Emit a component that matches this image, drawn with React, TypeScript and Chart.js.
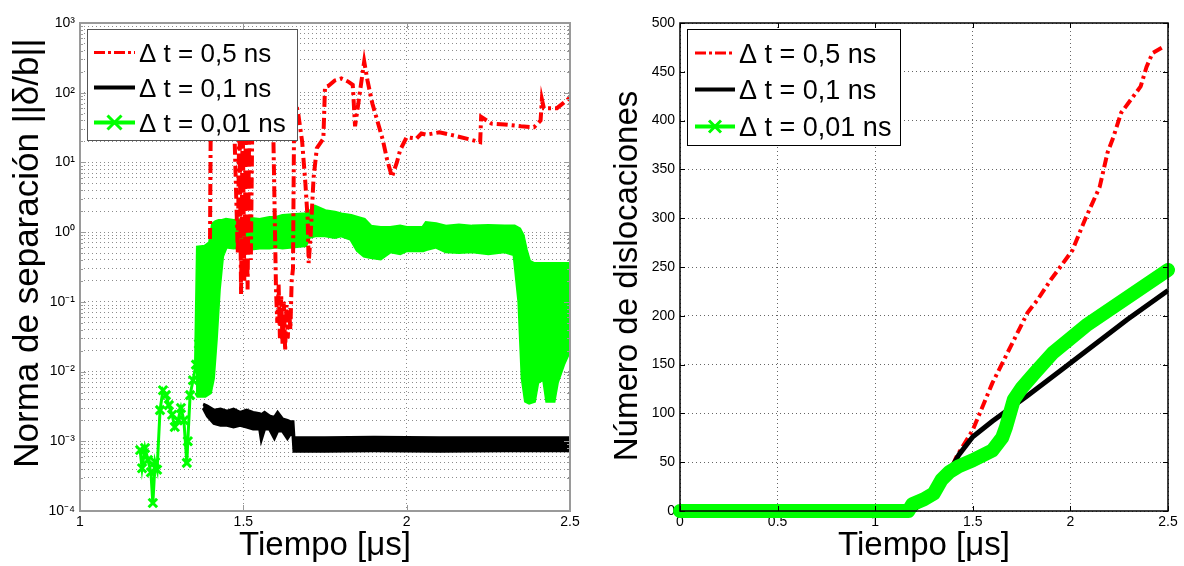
import React, { useEffect, useRef } from 'react';
import { Chart, registerables } from 'chart.js';
Chart.register(...registerables);

// ---------------- text ----------------
const legendLabels = ['Δ t = 0,5 ns', 'Δ t = 0,1 ns', 'Δ t = 0,01 ns'];
const xTitle = 'Tiempo [μs]';
const yTitleLeft = 'Norma de separación ||δ/b||';
const yTitleRight = 'Número de dislocaciones';

// ---------------- ticks ----------------
const leftXTicks = [1, 1.5, 2, 2.5];
const leftYExponents = [-4, -3, -2, -1, 0, 1, 2, 3];
const leftYMinorMultipliers = [2, 3, 4, 5, 6, 7, 8, 9];
const rightXTicks = [0, 0.5, 1, 1.5, 2, 2.5];
const rightYTicks = [0, 50, 100, 150, 200, 250, 300, 350, 400, 450, 500];

// ---------------- left panel data ----------------
// Δt = 0,5 ns (red, dash-dot)
const redLX = [1.398, 1.4, 1.405, 1.47, 1.483, 1.488, 1.493, 1.498, 1.503, 1.508, 1.513, 1.518, 1.523, 1.528, 1.535, 1.59, 1.6, 1.604, 1.608, 1.612, 1.616, 1.62, 1.624, 1.628, 1.632, 1.636, 1.64, 1.644, 1.648, 1.652, 1.656, 1.668, 1.68, 1.69, 1.697, 1.7, 1.706, 1.715, 1.725, 1.745, 1.75, 1.76, 1.78, 1.8, 1.82, 1.835, 1.842, 1.85, 1.87, 1.88, 1.895, 1.91, 1.927, 1.94, 1.955, 1.97, 1.98, 2.0, 2.03, 2.045, 2.06, 2.1, 2.15, 2.2, 2.225, 2.228, 2.26, 2.3, 2.35, 2.39, 2.41, 2.414, 2.42, 2.46, 2.5];
const redLY = [0.8, 25, 60, 80, 0.5, 60, 0.13, 45, 0.2, 50, 0.15, 35, 0.4, 60, 90, 80, 0.15, 0.05, 0.18, 0.03, 0.12, 0.025, 0.1, 0.02, 0.09, 0.03, 0.08, 0.04, 0.2, 0.3, 90, 50, 20, 5, 1.5, 0.36, 0.9, 6, 16, 22, 120, 125, 150, 160, 145, 130, 33, 60, 280, 150, 70, 40, 21, 11, 6.2, 10, 15, 23, 22, 26, 25, 27, 24, 21, 19.5, 45, 36, 35, 33, 32, 40, 80, 60, 60, 85];

// Δt = 0,1 ns (black) – noisy band: upper / lower envelope
const blackLX = [1.377, 1.39, 1.41, 1.43, 1.45, 1.47, 1.49, 1.51, 1.53, 1.55, 1.555, 1.565, 1.58, 1.595, 1.605, 1.62, 1.635, 1.645, 1.652, 1.655, 1.75, 1.9, 2.1, 2.3, 2.5];
const blackLHi = [3.4e-3, 3.2e-3, 2.8e-3, 2.9e-3, 2.7e-3, 2.9e-3, 2.6e-3, 2.8e-3, 2.6e-3, 2.5e-3, 2.4e-3, 2.6e-3, 2.3e-3, 2.2e-3, 2.6e-3, 2.1e-3, 2.0e-3, 1.9e-3, 1.9e-3, 1.12e-3, 1.12e-3, 1.14e-3, 1.12e-3, 1.12e-3, 1.12e-3];
const blackLLo = [3.0e-3, 2.3e-3, 1.8e-3, 1.7e-3, 1.7e-3, 1.6e-3, 1.7e-3, 1.6e-3, 1.5e-3, 1.5e-3, 1.05e-3, 1.5e-3, 1.5e-3, 1.1e-3, 1.4e-3, 1.4e-3, 1.1e-3, 1.3e-3, 1.2e-3, 7.2e-4, 7.2e-4, 7.3e-4, 7.2e-4, 7.3e-4, 7.3e-4];

// Δt = 0,01 ns (green) – sparse start with markers
const greenLX = [1.184, 1.19, 1.199, 1.208, 1.217, 1.223, 1.23, 1.236, 1.245, 1.254, 1.263, 1.272, 1.282, 1.29, 1.3, 1.309, 1.318, 1.327, 1.33, 1.337, 1.346, 1.355, 1.364];
const greenLY = [7.5e-4, 4.1e-4, 8e-4, 5.4e-4, 3.6e-4, 1.3e-4, 5e-4, 3.9e-4, 2.8e-3, 5.4e-3, 4.6e-3, 3.3e-3, 2.4e-3, 1.6e-3, 2e-3, 3e-3, 2e-3, 4.9e-4, 1e-3, 4.6e-3, 7.5e-3, 1.26e-2, 2.5e-2];
// Δt = 0,01 ns (green) – dense noisy band: upper / lower envelope
const greenBandX = [1.355, 1.361, 1.383, 1.398, 1.407, 1.416, 1.425, 1.435, 1.447, 1.47, 1.5, 1.52, 1.55, 1.58, 1.6, 1.62, 1.65, 1.69, 1.7, 1.72, 1.75, 1.78, 1.8, 1.83, 1.85, 1.87, 1.89, 1.92, 1.95, 1.98, 2.0, 2.05, 2.06, 2.09, 2.12, 2.16, 2.2, 2.25, 2.3, 2.33, 2.345, 2.355, 2.365, 2.375, 2.39, 2.4, 2.42, 2.43, 2.45, 2.46, 2.48, 2.5];
const greenBandHi = [0.012, 0.6, 0.62, 0.7, 1.3, 1.4, 1.45, 1.45, 1.5, 1.45, 1.5, 1.55, 1.5, 1.6, 1.6, 1.7, 1.75, 1.8, 1.9, 2.3, 2.0, 1.9, 1.8, 1.7, 1.6, 1.5, 1.2, 1.15, 1.15, 1.2, 1.15, 1.15, 1.35, 1.3, 1.2, 1.25, 1.2, 1.22, 1.2, 1.2, 1.1, 0.9, 0.55, 0.38, 0.35, 0.35, 0.35, 0.35, 0.35, 0.35, 0.35, 0.35];
const greenBandLo = [0.005, 0.0045, 0.0045, 0.005, 0.008, 0.03, 0.15, 0.45, 0.62, 0.6, 0.62, 0.58, 0.6, 0.6, 0.62, 0.6, 0.62, 0.65, 0.85, 0.9, 0.9, 0.85, 0.9, 0.8, 0.55, 0.46, 0.44, 0.42, 0.53, 0.5, 0.55, 0.55, 0.57, 0.62, 0.53, 0.52, 0.53, 0.5, 0.53, 0.48, 0.1, 0.008, 0.0038, 0.0036, 0.0038, 0.007, 0.008, 0.0038, 0.0038, 0.007, 0.013, 0.021];

// ---------------- right panel data ----------------
const redRX = [0, 1.19, 1.25, 1.32, 1.38, 1.42, 1.5, 1.6, 1.71, 1.78, 1.83, 1.9, 2.01, 2.08, 2.15, 2.19, 2.22, 2.26, 2.36, 2.39, 2.42, 2.48];
const redRY = [0, 0, 10, 25, 40, 57, 83, 131, 175, 203, 216, 237, 267, 301, 332, 367, 383, 408, 435, 455, 469, 476];
const blackRX = [0, 1.19, 1.25, 1.32, 1.38, 1.43, 1.5, 1.6, 1.78, 1.95, 2.29, 2.5];
const blackRY = [0, 0, 10, 25, 40, 58, 76, 92, 118, 144, 196, 226];
const greenRX = [0, 1.17, 1.19, 1.25, 1.3, 1.34, 1.38, 1.43, 1.5, 1.6, 1.65, 1.67, 1.71, 1.75, 1.82, 1.91, 2.08, 2.5];
const greenRY = [0, 0, 7, 12, 18, 32, 40, 46, 52, 62, 75, 86, 114, 126, 142, 162, 190, 247];

// ---------------- styling ----------------
const FONT = '"Liberation Sans", Arial, Helvetica, sans-serif';
const RED = '#ff0000';
const GREEN = '#00ff00';
const BLACK = '#000000';
const SUP: Record<string, string> = { '-': '⁻', '0': '⁰', '1': '¹', '2': '²', '3': '³', '4': '⁴', '5': '⁵', '6': '⁶', '7': '⁷', '8': '⁸', '9': '⁹' };

const pts = (xs: number[], ys: number[]) => xs.map((x, i) => ({ x, y: ys[i] }));

const leftYTickValues: { v: number; major: boolean }[] = [];
leftYExponents.forEach((e, i) => {
  leftYTickValues.push({ v: Math.pow(10, e), major: true });
  if (i < leftYExponents.length - 1) leftYMinorMultipliers.forEach((m) => leftYTickValues.push({ v: m * Math.pow(10, e), major: false }));
});

type LegendItem = { label: string; color: string; width: number; dash: number[]; marker: boolean };
type Deco = {
  frameColor: string;
  frameWidth: number;
  xTicks: number[];
  yTicks: { v: number; major: boolean }[];
  tickLen: number;
  minorLen: number;
  box: { x: number; y: number; w: number; h: number; border: string };
  rows: number[];
  lineX0: number;
  lineX1: number;
  textX: number;
  fontSize: number;
  markerR: number;
  yTitle: { text: string; size: number; baselineX: number; centerY: number };
};

function makeDeco(d: Deco, items: LegendItem[]) {
  return {
    id: 'deco',
    afterDatasetsDraw(chart: any) {
      const ctx: CanvasRenderingContext2D = chart.ctx;
      const a = chart.chartArea;
      const sx = chart.scales.x;
      const sy = chart.scales.y;
      ctx.save();
      ctx.setLineDash([]);
      // inward ticks
      ctx.strokeStyle = d.frameColor;
      ctx.lineWidth = 1;
      ctx.beginPath();
      d.xTicks.forEach((v) => {
        const p = Math.round(sx.getPixelForValue(v)) + 0.5;
        ctx.moveTo(p, a.bottom);
        ctx.lineTo(p, a.bottom - d.tickLen);
        ctx.moveTo(p, a.top);
        ctx.lineTo(p, a.top + d.tickLen);
      });
      d.yTicks.forEach((t) => {
        const p = Math.round(sy.getPixelForValue(t.v)) + 0.5;
        const L = t.major ? d.tickLen : d.minorLen;
        ctx.moveTo(a.left, p);
        ctx.lineTo(a.left + L, p);
        ctx.moveTo(a.right, p);
        ctx.lineTo(a.right - L, p);
      });
      ctx.stroke();
      // frame
      ctx.lineWidth = d.frameWidth;
      ctx.strokeRect(a.left, a.top, a.right - a.left, a.bottom - a.top);
      // y axis title (rotated)
      ctx.save();
      ctx.translate(d.yTitle.baselineX, d.yTitle.centerY);
      ctx.rotate(-Math.PI / 2);
      ctx.fillStyle = '#000';
      ctx.font = `${d.yTitle.size}px ${FONT}`;
      ctx.textAlign = 'center';
      ctx.textBaseline = 'alphabetic';
      ctx.fillText(d.yTitle.text, 0, 0);
      ctx.restore();
      // legend
      const b = d.box;
      ctx.fillStyle = '#ffffff';
      ctx.fillRect(b.x, b.y, b.w, b.h);
      ctx.strokeStyle = b.border;
      ctx.lineWidth = 1;
      ctx.strokeRect(b.x + 0.5, b.y + 0.5, b.w, b.h);
      items.forEach((it, i) => {
        const y = d.rows[i];
        ctx.save();
        ctx.strokeStyle = it.color;
        ctx.lineWidth = it.width;
        ctx.setLineDash(it.dash);
        ctx.beginPath();
        ctx.moveTo(d.lineX0, y);
        ctx.lineTo(d.lineX1, y);
        ctx.stroke();
        ctx.setLineDash([]);
        if (it.marker) {
          const cx = (d.lineX0 + d.lineX1) / 2;
          const r = d.markerR;
          ctx.lineWidth = 3;
          ctx.beginPath();
          ctx.moveTo(cx - r, y - r);
          ctx.lineTo(cx + r, y + r);
          ctx.moveTo(cx - r, y + r);
          ctx.lineTo(cx + r, y - r);
          ctx.stroke();
        }
        ctx.restore();
        ctx.fillStyle = '#000';
        ctx.font = `${d.fontSize}px ${FONT}`;
        ctx.textBaseline = 'alphabetic';
        ctx.textAlign = 'left';
        ctx.fillText(it.label, d.textX, y + 0.36 * d.fontSize);
      });
      ctx.restore();
    },
  };
}

function axisCommon(gridColor: string) {
  return {
    grid: { color: gridColor, lineWidth: 1, drawTicks: false },
    border: { display: false, dash: [1, 3] },
  };
}

function leftConfig(): any {
  const items: LegendItem[] = [
    { label: legendLabels[0], color: RED, width: 3, dash: [11, 3, 3, 3], marker: false },
    { label: legendLabels[1], color: BLACK, width: 4, dash: [], marker: false },
    { label: legendLabels[2], color: GREEN, width: 4, dash: [], marker: true },
  ];
  const deco = makeDeco(
    {
      frameColor: '#9a9a9a',
      frameWidth: 2,
      xTicks: leftXTicks,
      yTicks: leftYTickValues,
      tickLen: 6,
      minorLen: 3,
      box: { x: 87, y: 29, w: 210, h: 111, border: '#555' },
      rows: [52.5, 87.5, 122.5],
      lineX0: 94,
      lineX1: 135,
      textX: 139,
      fontSize: 26,
      markerR: 7,
      yTitle: { text: yTitleLeft, size: 35, baselineX: 38, centerY: 253 },
    },
    items
  );
  return {
    type: 'line',
    data: {
      datasets: [
        {
          label: 'g0', data: pts(greenLX, greenLY), borderColor: GREEN, backgroundColor: GREEN, borderWidth: 3,
          pointStyle: 'crossRot', pointRadius: 6, pointBorderWidth: 3, pointBorderColor: GREEN, fill: false, order: 2,
        },
        { label: 'g1', data: pts(greenBandX, greenBandHi), borderColor: GREEN, borderWidth: 4, pointRadius: 0, fill: false, order: 2 },
        { label: 'g2', data: pts(greenBandX, greenBandLo), borderColor: GREEN, backgroundColor: GREEN, borderWidth: 4, pointRadius: 0, fill: 1, order: 2 },
        { label: 'b1', data: pts(blackLX, blackLHi), borderColor: BLACK, borderWidth: 3, pointRadius: 0, fill: false, order: 1 },
        { label: 'b2', data: pts(blackLX, blackLLo), borderColor: BLACK, backgroundColor: BLACK, borderWidth: 3, pointRadius: 0, fill: 3, order: 1 },
        { label: 'r', data: pts(redLX, redLY), borderColor: RED, borderWidth: 4, borderDash: [11, 4, 3, 4], pointRadius: 0, fill: false, order: 0 },
      ],
    },
    options: {
      responsive: false,
      animation: false,
      devicePixelRatio: 1,
      layout: { padding: { left: 0, top: 23, right: 30, bottom: 0 } },
      plugins: { legend: { display: false }, tooltip: { enabled: false } },
      elements: { line: { tension: 0 } },
      scales: {
        x: {
          type: 'linear', min: 1, max: 2.5,
          afterBuildTicks: (s: any) => { s.ticks = leftXTicks.map((v) => ({ value: v })); },
          afterFit: (s: any) => { s.height = 55; },
          ticks: { font: { family: FONT, size: 14 }, color: '#000', padding: 3, maxRotation: 0, autoSkip: false, callback: (v: any) => String(v) },
          ...axisCommon('rgba(0,0,0,0.45)'),
          title: { display: true, text: xTitle, font: { family: FONT, size: 33 }, color: '#000', padding: 0 },
        },
        y: {
          type: 'logarithmic', min: 1e-4, max: 1e3,
          afterBuildTicks: (s: any) => { s.ticks = leftYTickValues.map((t) => ({ value: t.v, major: t.major })); },
          afterFit: (s: any) => { s.width = 80; },
          ticks: {
            font: { family: FONT, size: 14 }, color: '#000', padding: 5, autoSkip: false,
            callback: (v: any) => {
              const e = Math.log10(v);
              if (Math.abs(e - Math.round(e)) > 1e-6) return '';
              return '10' + String(Math.round(e)).split('').map((c) => SUP[c]).join('');
            },
          },
          ...axisCommon('rgba(0,0,0,0.45)'),
          title: { display: false },
        },
      },
    },
    plugins: [deco],
  };
}

function rightConfig(): any {
  const items: LegendItem[] = [
    { label: legendLabels[0], color: RED, width: 3, dash: [11, 3, 3, 3], marker: false },
    { label: legendLabels[1], color: BLACK, width: 4, dash: [], marker: false },
    { label: legendLabels[2], color: GREEN, width: 4, dash: [], marker: true },
  ];
  const deco = makeDeco(
    {
      frameColor: '#000',
      frameWidth: 1.5,
      xTicks: rightXTicks,
      yTicks: rightYTicks.map((v) => ({ v, major: true })),
      tickLen: 5,
      minorLen: 5,
      box: { x: 87, y: 29, w: 213, h: 116, border: '#000' },
      rows: [53, 89.5, 126.5],
      lineX0: 95,
      lineX1: 135,
      textX: 139,
      fontSize: 27,
      markerR: 6,
      yTitle: { text: yTitleRight, size: 33, baselineX: 37, centerY: 276 },
    },
    items
  );
  return {
    type: 'line',
    data: {
      datasets: [
        { label: 'r', data: pts(redRX, redRY), borderColor: RED, borderWidth: 4, borderDash: [10, 4, 3, 4], pointRadius: 0, fill: false, order: 2 },
        { label: 'b', data: pts(blackRX, blackRY), borderColor: BLACK, borderWidth: 5, pointRadius: 0, fill: false, order: 1 },
        {
          label: 'g', data: pts(greenRX, greenRY), borderColor: GREEN, borderWidth: 14, borderCapStyle: 'round', borderJoinStyle: 'round',
          pointRadius: 0, fill: false, order: 0, clip: 10,
        },
      ],
    },
    options: {
      responsive: false,
      animation: false,
      devicePixelRatio: 1,
      layout: { padding: { left: 0, top: 23, right: 16, bottom: 0 } },
      plugins: { legend: { display: false }, tooltip: { enabled: false } },
      elements: { line: { tension: 0 } },
      scales: {
        x: {
          type: 'linear', min: 0, max: 2.5,
          afterBuildTicks: (s: any) => { s.ticks = rightXTicks.map((v) => ({ value: v })); },
          afterFit: (s: any) => { s.height = 55; },
          ticks: { font: { family: FONT, size: 14 }, color: '#000', padding: 3, maxRotation: 0, autoSkip: false, callback: (v: any) => String(v) },
          ...axisCommon('rgba(0,0,0,0.6)'),
          title: { display: true, text: xTitle, font: { family: FONT, size: 33 }, color: '#000', padding: 0 },
        },
        y: {
          type: 'linear', min: 0, max: 500,
          afterBuildTicks: (s: any) => { s.ticks = rightYTicks.map((v) => ({ value: v })); },
          afterFit: (s: any) => { s.width = 80; },
          ticks: { font: { family: FONT, size: 14 }, color: '#000', padding: 5, autoSkip: false, callback: (v: any) => String(v) },
          ...axisCommon('rgba(0,0,0,0.6)'),
          title: { display: false },
        },
      },
    },
    plugins: [deco],
  };
}

export default function App() {
  const leftRef = useRef<HTMLCanvasElement>(null);
  const rightRef = useRef<HTMLCanvasElement>(null);
  useEffect(() => {
    const c1 = new Chart(leftRef.current as HTMLCanvasElement, leftConfig());
    const c2 = new Chart(rightRef.current as HTMLCanvasElement, rightConfig());
    return () => {
      c1.destroy();
      c2.destroy();
    };
  }, []);
  return (
    <div style={{ position: 'absolute', left: 0, top: 0, width: 1184, height: 566, background: '#fff', overflow: 'hidden' }}>
      <canvas ref={leftRef} width={600} height={566} style={{ position: 'absolute', left: 0, top: 0 }} />
      <canvas ref={rightRef} width={584} height={566} style={{ position: 'absolute', left: 600, top: 0 }} />
    </div>
  );
}
